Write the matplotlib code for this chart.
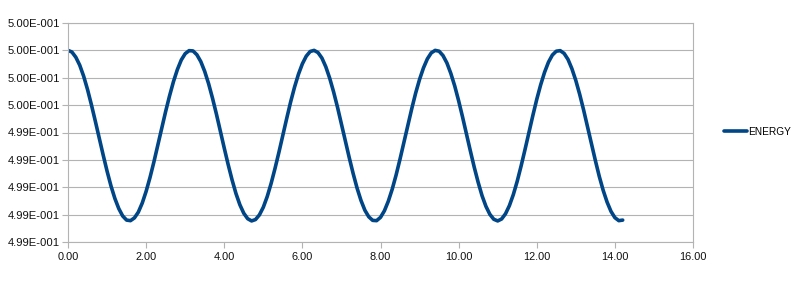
import numpy as np
import matplotlib
matplotlib.use("Agg")
import matplotlib.pyplot as plt
from matplotlib.ticker import FixedLocator, MultipleLocator, FuncFormatter

# time samples (step 0.1) and energy, in 1e-5 above 0.4990
t = np.round(np.arange(0, 14.25, 0.1), 1)
energy_off = [75.0, 74.4, 72.5, 69.6, 65.6, 60.7, 55.1, 49.1, 42.9, 36.8,
              30.9, 25.5, 20.9, 17.2, 14.5, 13.0, 12.8, 13.8, 15.9, 19.2,
              23.5, 28.6, 34.3, 40.4, 46.6, 52.7, 58.4, 63.6, 68.0, 71.5,
              73.8, 74.9, 74.8, 73.4, 70.9, 67.3, 62.8, 57.5, 51.7, 45.5,
              39.3, 33.3, 27.7, 22.7, 18.6, 15.5, 13.5, 12.7, 13.2, 14.9,
              17.7, 21.6, 26.4, 31.9, 37.8, 44.0, 50.2, 56.2, 61.6, 66.3,
              70.1, 72.9, 74.6, 75.0, 74.2, 72.2, 69.0, 64.8, 59.8, 54.2,
              48.1, 41.9, 35.8, 30.0, 24.7, 20.2, 16.6, 14.2, 12.9, 12.8,
              14.0, 16.4, 19.9, 24.3, 29.5, 35.3, 41.4, 47.6, 53.7, 59.4,
              64.4, 68.6, 71.9, 74.1, 75.0, 74.7, 73.1, 70.4, 66.6, 62.0,
              56.6, 50.7, 44.5, 38.3, 32.3, 26.8, 21.9, 18.0, 15.1, 13.3,
              12.7, 13.4, 15.3, 18.3, 22.3, 27.2, 32.8, 38.8, 45.0, 51.2,
              57.1, 62.4, 67.0, 70.7, 73.3, 74.7, 74.9, 73.9, 71.7, 68.3,
              64.0, 58.9, 53.2, 47.1, 40.9, 34.8, 29.0, 23.9, 19.6, 16.2,
              13.9, 12.8, 13.0]
energy = 0.4990 + np.array(energy_off) * 1e-5

y_ticks = [0.49985, 0.49975, 0.49965, 0.49955, 0.49945,
           0.49935, 0.49925, 0.49915, 0.49905]

grid_col = "#b3b3b3"
line_col = "#004586"

fig = plt.figure(figsize=(8, 2.81), dpi=100)
ax = fig.add_axes([68/800, 1-242/281, 625/800, 219/281])

ax.plot(t, energy, color=line_col, lw=2.6, label="ENERGY",
        solid_joinstyle="round", solid_capstyle="round")

ax.set_xlim(0, 16)
ax.set_ylim(min(y_ticks), max(y_ticks))
ax.xaxis.set_major_locator(MultipleLocator(2))
ax.yaxis.set_major_locator(FixedLocator(y_ticks))


def sci(v, pos):
    m, e = f"{v:.2E}".split("E")
    return f"{m}E{int(e):+04d}"


ax.yaxis.set_major_formatter(FuncFormatter(sci))
ax.xaxis.set_major_formatter(FuncFormatter(lambda v, p: f"{v:.2f}"))

ax.grid(axis="y", color=grid_col, lw=0.8)
ax.set_axisbelow(True)
for s in ax.spines.values():
    s.set_color(grid_col)
    s.set_linewidth(0.8)
ax.tick_params(axis="y", length=4, color=grid_col, width=0.8, pad=1.5,
               labelsize=8.1, labelcolor="#111111")
ax.tick_params(axis="x", length=4, color=grid_col, width=0.8, pad=3,
               labelsize=7.9, labelcolor="#111111")
for lab in ax.get_xticklabels() + ax.get_yticklabels():
    lab.set_fontfamily("Liberation Sans")

ax.legend(loc="center left", bbox_to_anchor=(724/800, 1-132/281),
          bbox_transform=fig.transFigure, frameon=False,
          prop={"family": "Liberation Sans", "size": 7.3},
          handlelength=2.3, handletextpad=0.05, borderpad=0, borderaxespad=0)

fig.savefig("out.png", dpi=100)
